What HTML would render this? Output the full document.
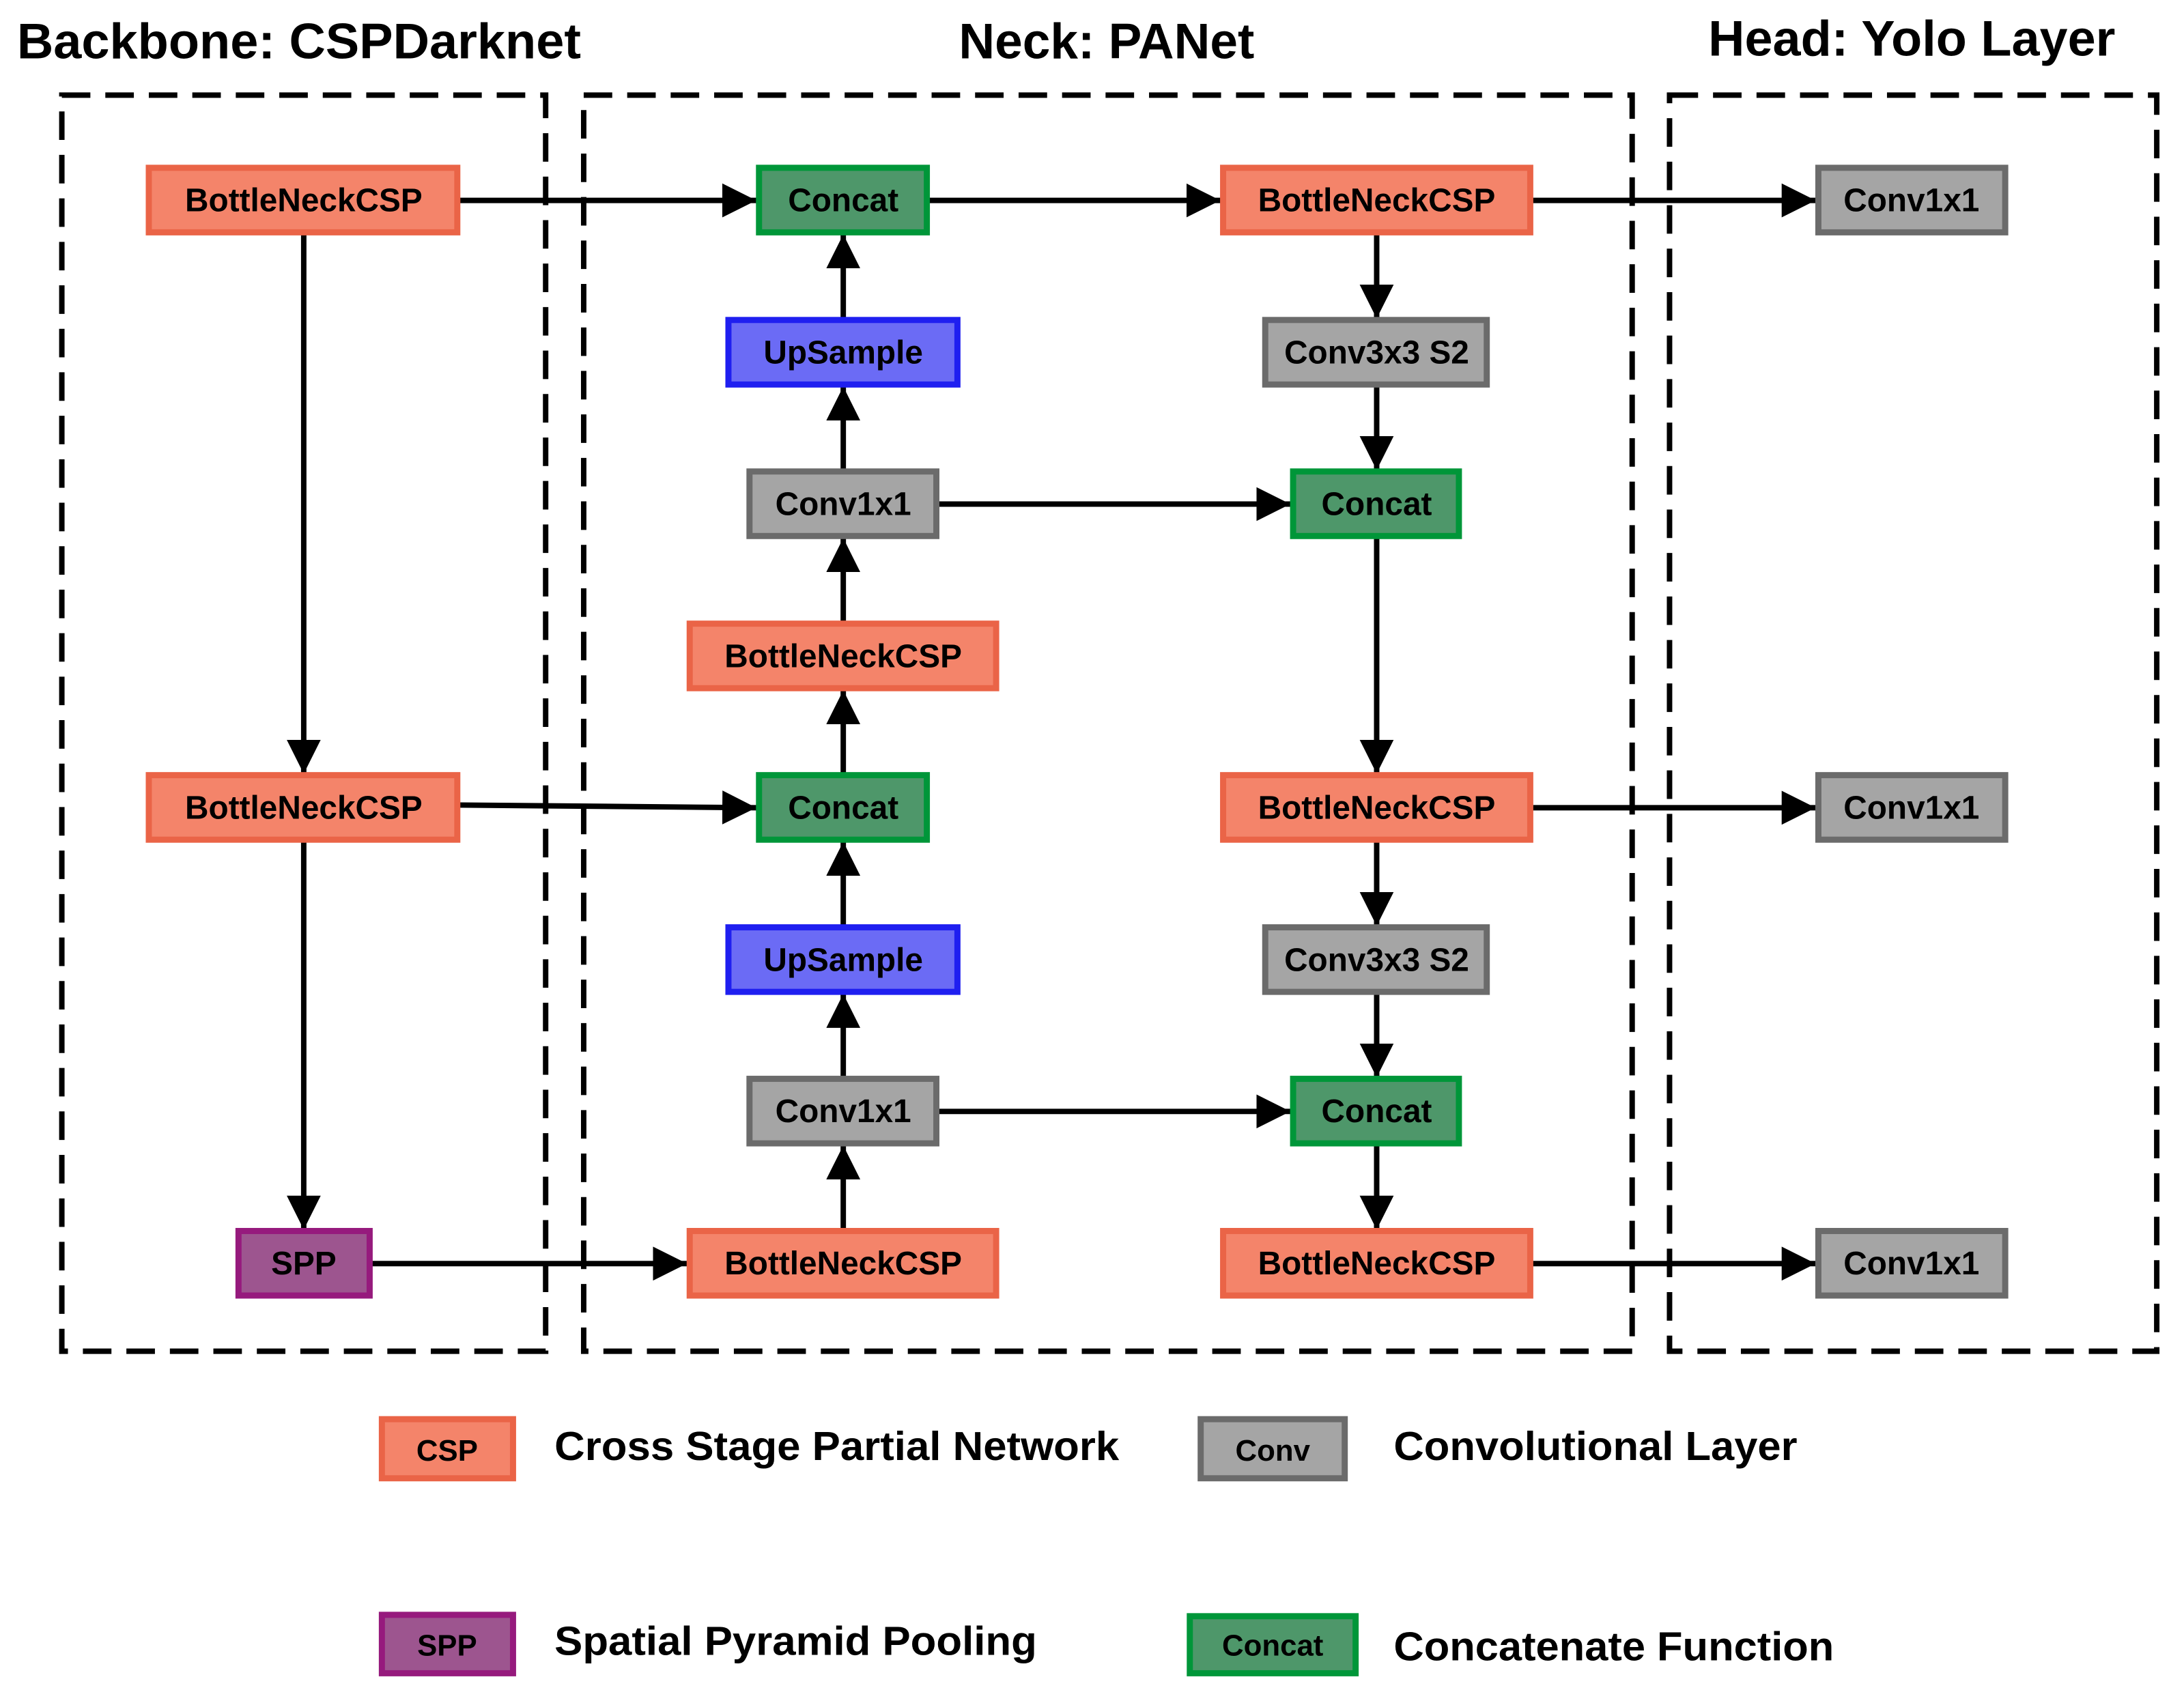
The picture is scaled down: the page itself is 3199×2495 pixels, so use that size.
<!DOCTYPE html>
<html><head><meta charset="utf-8"><style>
html,body{margin:0;padding:0;background:#fff;}
svg{display:block;}
text{font-family:"Liberation Sans",Arial,sans-serif;font-weight:bold;fill:#000;}
</style></head><body>
<svg width="3199" height="2495" viewBox="0 0 3199 2495" xmlns="http://www.w3.org/2000/svg">
<defs>
<marker id="ah" markerWidth="50" markerHeight="50" refX="50" refY="25" orient="auto" markerUnits="userSpaceOnUse">
<path d="M0,0 L50,25 L0,50 Z" fill="#000"/>
</marker>
</defs>
<g transform="scale(0.9953)">
<!-- titles -->
<text x="25" y="86" font-size="74" textLength="830" lengthAdjust="spacingAndGlyphs">Backbone: CSPDarknet</text>
<text x="1411" y="86" font-size="74" textLength="435" lengthAdjust="spacingAndGlyphs">Neck: PANet</text>
<text x="2514" y="82" font-size="74" textLength="599" lengthAdjust="spacingAndGlyphs">Head: Yolo Layer</text>

<!-- dashed regions -->
<g fill="none" stroke="#000" stroke-width="8" stroke-dasharray="42 22">
<rect x="91" y="140" width="712" height="1849"/>
<rect x="859" y="140" width="1543" height="1849"/>
<rect x="2457" y="140" width="717" height="1849"/>
</g>

<!-- connectors -->
<g stroke="#000" stroke-width="8" fill="none" marker-end="url(#ah)">
<line x1="677" y1="295" x2="1113" y2="295"/>
<line x1="447" y1="345" x2="447" y2="1139"/>
<line x1="677" y1="1185" x2="1113" y2="1189"/>
<line x1="447" y1="1239" x2="447" y2="1810"/>
<line x1="548" y1="1860" x2="1011" y2="1860"/>
<line x1="1241" y1="1810" x2="1241" y2="1686"/>
<line x1="1241" y1="1586" x2="1241" y2="1463"/>
<line x1="1241" y1="1363" x2="1241" y2="1239"/>
<line x1="1241" y1="1139" x2="1241" y2="1016"/>
<line x1="1241" y1="916" x2="1241" y2="792"/>
<line x1="1241" y1="692" x2="1241" y2="569"/>
<line x1="1241" y1="469" x2="1241" y2="345"/>
<line x1="1368" y1="295" x2="1796" y2="295"/>
<line x1="2256" y1="295" x2="2672" y2="295"/>
<line x1="2026" y1="345" x2="2026" y2="469"/>
<line x1="2026" y1="569" x2="2026" y2="692"/>
<line x1="2026" y1="792" x2="2026" y2="1139"/>
<line x1="2026" y1="1239" x2="2026" y2="1363"/>
<line x1="2026" y1="1463" x2="2026" y2="1586"/>
<line x1="2026" y1="1686" x2="2026" y2="1810"/>
<line x1="1382" y1="742" x2="1899" y2="742"/>
<line x1="1382" y1="1636" x2="1899" y2="1636"/>
<line x1="2256" y1="1189" x2="2672" y2="1189"/>
<line x1="2256" y1="1860" x2="2672" y2="1860"/>
</g>

<!-- nodes -->
<g stroke-width="9">
<rect x="219" y="247" width="454" height="95" fill="#F4846A" stroke="#EA6447"/>
<rect x="219" y="1141" width="454" height="95" fill="#F4846A" stroke="#EA6447"/>
<rect x="351" y="1812" width="193" height="95" fill="#9D558F" stroke="#961A7D"/>
<rect x="1117" y="247" width="247" height="95" fill="#4E976A" stroke="#009639"/>
<rect x="1072" y="471" width="337" height="95" fill="#6B6BF5" stroke="#1F1FF0"/>
<rect x="1103" y="694" width="275" height="95" fill="#A5A5A5" stroke="#6B6B6B"/>
<rect x="1015" y="918" width="451" height="95" fill="#F4846A" stroke="#EA6447"/>
<rect x="1117" y="1141" width="247" height="95" fill="#4E976A" stroke="#009639"/>
<rect x="1072" y="1365" width="337" height="95" fill="#6B6BF5" stroke="#1F1FF0"/>
<rect x="1103" y="1588" width="275" height="95" fill="#A5A5A5" stroke="#6B6B6B"/>
<rect x="1015" y="1812" width="451" height="95" fill="#F4846A" stroke="#EA6447"/>
<rect x="1800" y="247" width="452" height="95" fill="#F4846A" stroke="#EA6447"/>
<rect x="1862" y="471" width="326" height="95" fill="#A5A5A5" stroke="#6B6B6B"/>
<rect x="1903" y="694" width="244" height="95" fill="#4E976A" stroke="#009639"/>
<rect x="1800" y="1141" width="452" height="95" fill="#F4846A" stroke="#EA6447"/>
<rect x="1862" y="1365" width="326" height="95" fill="#A5A5A5" stroke="#6B6B6B"/>
<rect x="1903" y="1588" width="244" height="95" fill="#4E976A" stroke="#009639"/>
<rect x="1800" y="1812" width="452" height="95" fill="#F4846A" stroke="#EA6447"/>
<rect x="2676" y="247" width="275" height="95" fill="#A5A5A5" stroke="#6B6B6B"/>
<rect x="2676" y="1141" width="275" height="95" fill="#A5A5A5" stroke="#6B6B6B"/>
<rect x="2676" y="1812" width="275" height="95" fill="#A5A5A5" stroke="#6B6B6B"/>
<rect x="562" y="2089" width="193" height="87" fill="#F4846A" stroke="#EA6447"/>
<rect x="1767" y="2089" width="212" height="87" fill="#A5A5A5" stroke="#6B6B6B"/>
<rect x="562" y="2377" width="193" height="86" fill="#9D558F" stroke="#961A7D"/>
<rect x="1751" y="2379" width="244" height="84" fill="#4E976A" stroke="#009639"/>
</g>

<!-- node labels -->
<g font-size="48" text-anchor="middle">
<text x="447" y="311">BottleNeckCSP</text>
<text x="447" y="1205">BottleNeckCSP</text>
<text x="447" y="1876">SPP</text>
<text x="1241" y="311">Concat</text>
<text x="1241" y="535">UpSample</text>
<text x="1241" y="758">Conv1x1</text>
<text x="1241" y="982">BottleNeckCSP</text>
<text x="1241" y="1205">Concat</text>
<text x="1241" y="1429">UpSample</text>
<text x="1241" y="1652">Conv1x1</text>
<text x="1241" y="1876">BottleNeckCSP</text>
<text x="2026" y="311">BottleNeckCSP</text>
<text x="2026" y="535">Conv3x3 S2</text>
<text x="2026" y="758">Concat</text>
<text x="2026" y="1205">BottleNeckCSP</text>
<text x="2026" y="1429">Conv3x3 S2</text>
<text x="2026" y="1652">Concat</text>
<text x="2026" y="1876">BottleNeckCSP</text>
<text x="2813" y="311">Conv1x1</text>
<text x="2813" y="1205">Conv1x1</text>
<text x="2813" y="1876">Conv1x1</text>
<text x="658" y="2150" font-size="44">CSP</text>
<text x="1873" y="2150" font-size="44">Conv</text>
<text x="658" y="2437" font-size="44">SPP</text>
<text x="1873" y="2437" font-size="44">Concat</text>
</g>

<g font-size="60">
<text x="816" y="2149" textLength="831" lengthAdjust="spacingAndGlyphs">Cross Stage Partial Network</text>
<text x="2051" y="2149" textLength="594" lengthAdjust="spacingAndGlyphs">Convolutional Layer</text>
<text x="816" y="2436" textLength="710" lengthAdjust="spacingAndGlyphs">Spatial Pyramid Pooling</text>
<text x="2051" y="2444" textLength="648" lengthAdjust="spacingAndGlyphs">Concatenate Function</text>
</g>
</g>
</svg>
</body></html>
